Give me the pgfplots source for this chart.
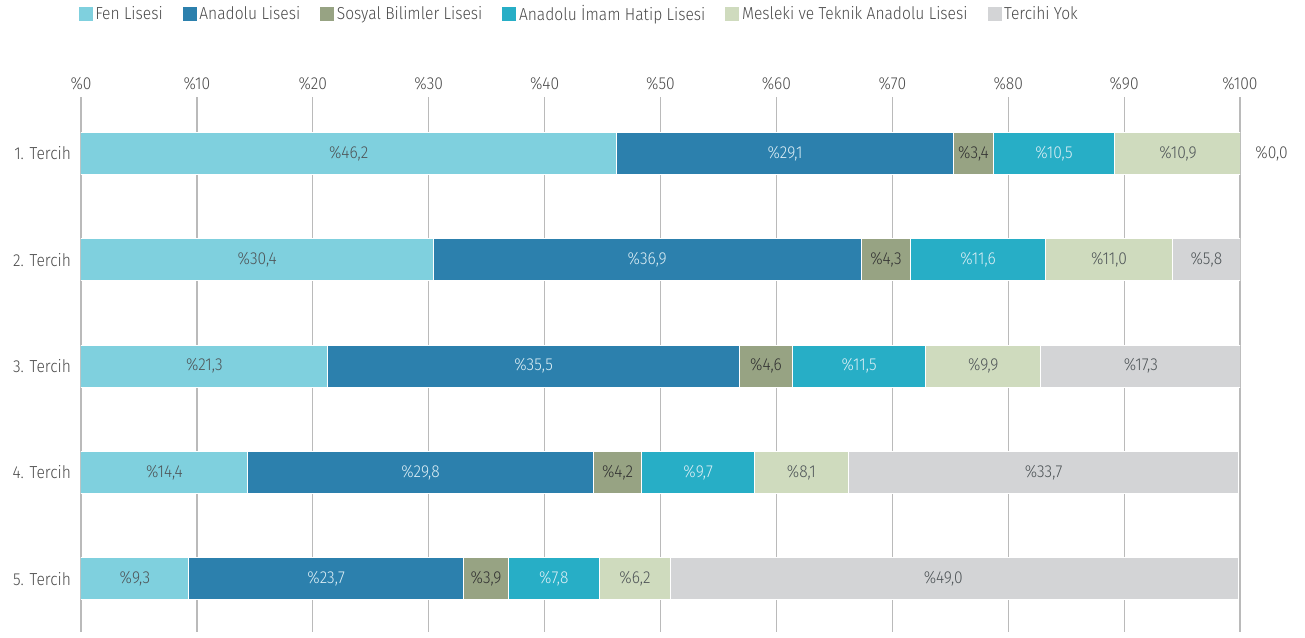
\documentclass[border=0pt]{standalone}
\usepackage{fontspec}
\setmainfont{Fira Sans Light}[FakeStretch=0.9]
\usepackage{pgfplots}
\pgfplotsset{compat=1.18}

\definecolor{fenc}{HTML}{7FD0DE}
\definecolor{anac}{HTML}{2C80AD}
\definecolor{sosc}{HTML}{97A383}
\definecolor{aihc}{HTML}{27AEC6}
\definecolor{mesc}{HTML}{CFDBBE}
\definecolor{yokc}{HTML}{D3D4D6}
\definecolor{txt}{HTML}{4A4A4A}
\definecolor{lbld}{HTML}{4F5558}
\definecolor{lbll}{HTML}{DCEEF5}

\begin{document}
\begin{tikzpicture}[font={\fontsize{13}{15}\selectfont}]
\useasboundingbox (-60.75pt,-3.75pt) rectangle (918pt,474pt);
\pgfplotsset{geom/.style={
    width=869.25pt, height=401.25pt, scale only axis,
    xmin=0, xmax=100, ymin=0.47, ymax=5.5, y dir=reverse,
    at={(0,0)}, anchor=south west}}
\begin{axis}[geom,
    xbar stacked, bar width=31.5pt,
    every axis plot/.append style={draw=white, line width=0.75pt,
      legend image code/.code={\fill[##1, draw=none] (0pt,-5.25pt) rectangle (10.5pt,5.25pt);}},
    axis line style={draw=none},
    major tick length=0pt,
    xticklabel pos=upper,
    xtick={0,10,...,100},
    xticklabels={\%0,\%10,\%20,\%30,\%40,\%50,\%60,\%70,\%80,\%90,\%100},
    xticklabel style={text=txt, yshift=1.5pt},
    ytick={1,2,3,4,5},
    yticklabels={1. Tercih,2. Tercih,3. Tercih,4. Tercih,5. Tercih},
    yticklabel style={text=txt, xshift=-4pt},
    xmajorgrids, grid style={draw=black!27, line width=0.9pt},
    legend columns=6,
    legend style={at={(0,1)}, anchor=west, yshift=62.25pt, xshift=-2pt,
      draw=none, text=txt, inner sep=0pt,
      nodes={inner sep=2pt},
      /tikz/every even column/.append style={column sep=13pt}},
    legend cell align=left,
  ]
  \addplot[fill=fenc] coordinates {(46.2,1) (30.4,2) (21.3,3) (14.4,4) (9.3,5)};
  \addplot[fill=anac] coordinates {(29.1,1) (36.9,2) (35.5,3) (29.8,4) (23.7,5)};
  \addplot[fill=sosc] coordinates {(3.4,1) (4.3,2) (4.6,3) (4.2,4) (3.9,5)};
  \addplot[fill=aihc] coordinates {(10.5,1) (11.6,2) (11.5,3) (9.7,4) (7.8,5)};
  \addplot[fill=mesc] coordinates {(10.9,1) (11.0,2) (9.9,3) (8.1,4) (6.2,5)};
  \addplot[fill=yokc] coordinates {(0.0,1) (5.8,2) (17.3,3) (33.7,4) (49.0,5)};
  \legend{Fen Lisesi, Anadolu Lisesi, Sosyal Bilimler Lisesi, Anadolu İmam Hatip Lisesi, Mesleki ve Teknik Anadolu Lisesi, Tercihi Yok}
\end{axis}
\begin{axis}[geom, hide axis, clip=false,
    every axis plot/.append style={only marks, mark=*, mark size=0pt,
      nodes near coords, point meta=explicit symbolic},
  ]
  \addplot[nodes near coords style={text=lbld, anchor=center}] table[meta=l] {
    x y l
    23.1 1 \%46,2
    15.2 2 \%30,4
    10.65 3 \%21,3
    7.2 4 \%14,4
    4.65 5 \%9,3
  };
  \addplot[nodes near coords style={text=lbll, anchor=center}] table[meta=l] {
    x y l
    60.75 1 \%29,1
    48.85 2 \%36,9
    39.05 3 \%35,5
    29.3 4 \%29,8
    21.15 5 \%23,7
  };
  \addplot[nodes near coords style={text=black!80, anchor=center}] table[meta=l] {
    x y l
    77.0 1 \%3,4
    69.45 2 \%4,3
    59.1 3 \%4,6
    46.3 4 \%4,2
    34.95 5 \%3,9
  };
  \addplot[nodes near coords style={text=lbll, anchor=center}] table[meta=l] {
    x y l
    83.95 1 \%10,5
    77.4 2 \%11,6
    67.15 3 \%11,5
    53.25 4 \%9,7
    40.8 5 \%7,8
  };
  \addplot[nodes near coords style={text=lbld, anchor=center}] table[meta=l] {
    x y l
    94.65 1 \%10,9
    88.7 2 \%11,0
    77.85 3 \%9,9
    62.15 4 \%8,1
    47.8 5 \%6,2
  };
  \addplot[nodes near coords style={text=lbld, anchor=center}] table[meta=l] {
    x y l
    97.1 2 \%5,8
    91.45 3 \%17,3
    83.05 4 \%33,7
    74.4 5 \%49,0
  };
  \addplot[nodes near coords style={text=txt, anchor=west, xshift=8pt}] table[meta=l] {
    x y l
    100 1 \%0,0
  };
\end{axis}
\end{tikzpicture}
\end{document}
